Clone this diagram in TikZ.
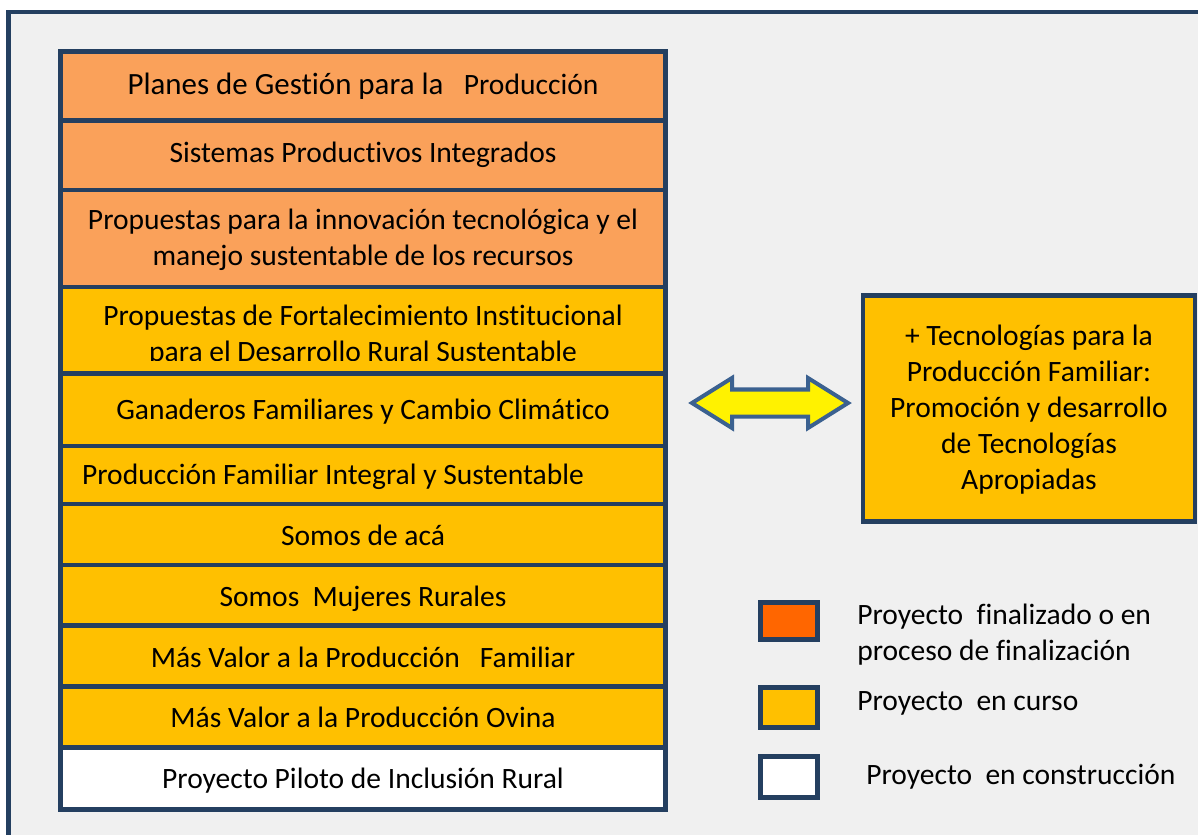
\documentclass[tikz,border=0pt]{standalone}
\usepackage{fontspec}
\setmainfont{Carlito}[Ligatures={NoCommon}]
\usetikzlibrary{positioning}
\usetikzlibrary{shapes.arrows}
\usepackage{xcolor}

\definecolor{marco}{HTML}{243F60}
\definecolor{fondo}{HTML}{F0F0F0}
\definecolor{naranja}{HTML}{FAA15A}
\definecolor{amarillo}{HTML}{FFC000}
\definecolor{rojizo}{HTML}{FF6600}
\definecolor{azulflecha}{HTML}{3B6190}

\begin{document}
\begin{tikzpicture}[x=0.025cm, y=-0.025cm]

\tikzset
  {
    fila/.style=    {draw=marco, line width=0.12cm},
    texto/.style=   {font=\fontsize{21}{25.6}\selectfont, inner sep=0pt, align=center, anchor=base},
    leyenda/.style= {font=\fontsize{21}{24.9}\selectfont, inner sep=0pt, align=left, anchor=base west},
    dobleflecha/.style= {double arrow, draw=azulflecha, fill=yellow, line width=0.1cm,
        minimum height=3.9cm, minimum width=1.15cm, inner sep=0.2875cm,
        double arrow head extend=0.2875cm, double arrow tip angle=64}
  }

\useasboundingbox (0,0) rectangle (1198,835);
\clip (0,0) rectangle (1198,835);
\fill[white] (0,0) rectangle (1198,835);

% marco
\filldraw[draw=marco, fill=fondo, line width=0.11cm] (8.5,12) rectangle (1250,900);

% filas
{
\filldraw[fila, fill=naranja] (60.5,51.5) rectangle (665.5,120.5);
\filldraw[fila, fill=naranja] (60.5,120.5) rectangle (665.5,190);
\filldraw[fila, fill=naranja] (60.5,190) rectangle (665.5,287);
\filldraw[fila, fill=amarillo] (60.5,287) rectangle (665.5,373.5);
\filldraw[fila, fill=amarillo] (60.5,373.5) rectangle (665.5,446);
\filldraw[fila, fill=amarillo] (60.5,446) rectangle (665.5,504);
\filldraw[fila, fill=amarillo] (60.5,504) rectangle (665.5,565);
\filldraw[fila, fill=amarillo] (60.5,565) rectangle (665.5,625.5);
\filldraw[fila, fill=amarillo] (60.5,625.5) rectangle (665.5,686.5);
\filldraw[fila, fill=amarillo] (60.5,686.5) rectangle (665.5,747.5);
\filldraw[fila, fill=white] (60.5,747.5) rectangle (665.5,809.5);
}

{
\node[texto] (planes) at (363,94)
{{\fontsize{22}{26}\selectfont Planes de Gestión para la}\hspace{14.5pt}{\fontsize{21}{24}\selectfont Producción}};
\node[texto] (sistemas) at (363,162) {Sistemas Productivos Integrados};
\node[texto] (innovacion) at (363,265)
{Propuestas para la innovación tecnológica y el\\manejo sustentable de los recursos};

\begin{scope}
\clip (60,287) rectangle (665,360);
\node[texto] (fortalecimiento) at (363,361)
{Propuestas de Fortalecimiento Institucional\\para el Desarrollo Rural Sustentable};
\end{scope}

\node[texto] (ganaderos) at (363,419) {Ganaderos Familiares y Cambio Climático};
\node[texto] (integral) at (333,484) {Producción Familiar Integral y Sustentable};
\node[texto] (somos) at (363,545) {Somos de acá};
\node[texto] (mujeres) at (363,606) {Somos\ \ Mujeres Rurales};
\node[texto] (familiar) at (363,667) {Más Valor a la Producción\ \ \ Familiar};
\node[texto] (ovina) at (363,727) {Más Valor a la Producción Ovina};
\node[texto] (piloto) at (363,788) {Proyecto Piloto de Inclusión Rural};
}

% cuadro de tecnologias
\node[fila, fill=amarillo, minimum width=8.3cm, minimum height=5.65cm] (tecno) at (1029,408.5) {};
\node[texto] (tecnotexto) at (1029,489)
{+ Tecnologías para la\\Producción Familiar:\\Promoción y desarrollo\\de Tecnologías\\Apropiadas};

\node[dobleflecha] (flechas) at (770,403) {};

% leyenda
{
\filldraw[fila, fill=rojizo] (760.5,602.5) rectangle (817.5,639.5);
\filldraw[fila, fill=amarillo] (760.5,687.5) rectangle (817.5,727.5);
\filldraw[fila, fill=white] (760.5,756.5) rectangle (817.5,797.5);

\node[leyenda] (leyfin) at (857,660) {Proyecto\ \ finalizado o en\\proceso de finalización};
\node[leyenda] (leycurso) at (857,710) {Proyecto\ \ en curso};
\node[leyenda] (leycons) at (866,784) {Proyecto\ \ en construcción};
}

\end{tikzpicture}
\end{document}
